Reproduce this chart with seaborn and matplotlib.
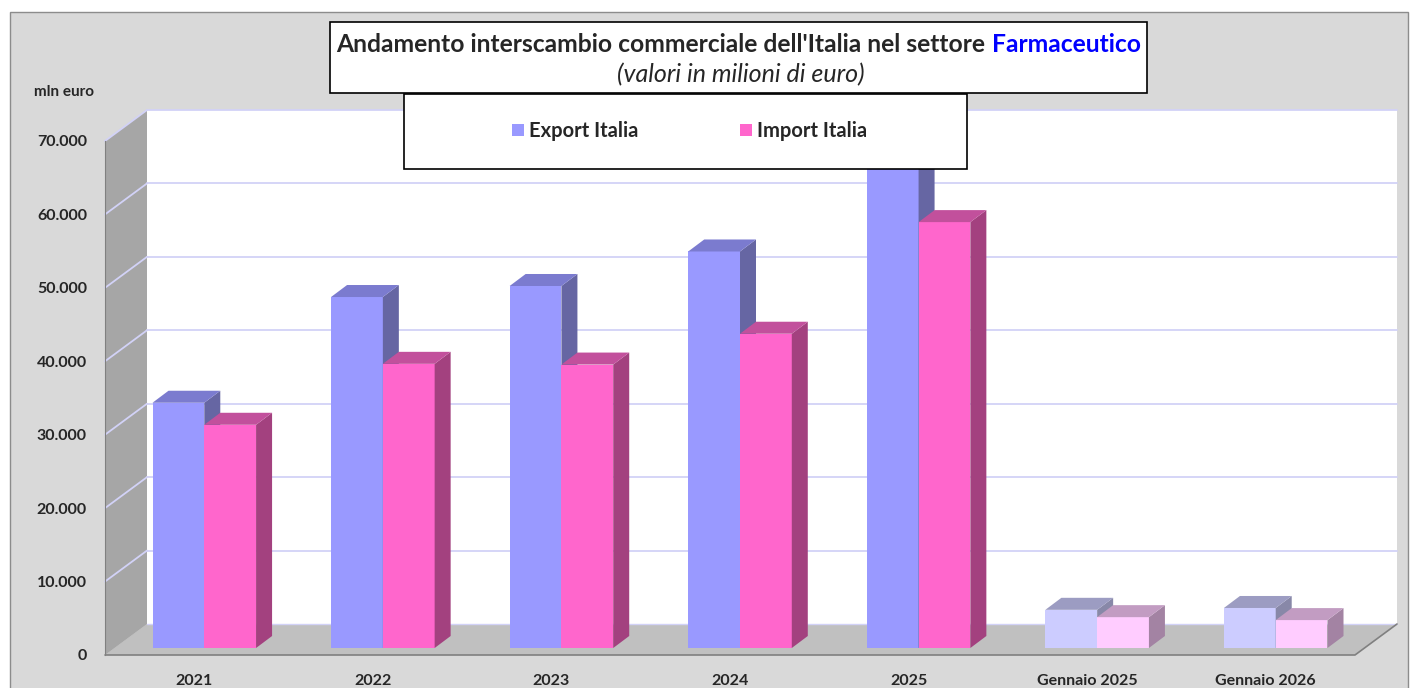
import matplotlib.pyplot as plt
from matplotlib.patches import Polygon, Rectangle, Patch
import seaborn as sns
import pandas as pd

# dati (milioni di euro)
categorie = ['2021', '2022', '2023', '2024', '2025', 'Gennaio 2025', 'Gennaio 2026']
export_italia = [33400, 47800, 49300, 54000, 67000, 5200, 5450]
import_italia = [30400, 38700, 38600, 42800, 58000, 4200, 3800]
serie = ['Export Italia', 'Import Italia']
y_ticks = [0, 10000, 20000, 30000, 40000, 50000, 60000, 70000]

colori = ['#9999FF', '#FF66CC']
colori_lato = ['#6666A3', '#A3417F']
colori_top = ['#7B7BCF', '#C2509C']
# barre "Gennaio" in tinta chiara
colori_gen = ['#CCCCFF', '#FFCCFF']
colori_gen_lato = ['#8888A8', '#A383A3']
colori_gen_top = ['#9C9CC2', '#C29CC2']

df = pd.DataFrame({
    'categoria': categorie * 2,
    'valore': export_italia + import_italia,
    'serie': [serie[0]] * len(categorie) + [serie[1]] * len(categorie),
})

sns.set_style('white')
plt.rcParams['font.family'] = ['Lato', 'DejaVu Sans']

W, H = 1416, 688
fig = plt.figure(figsize=(W / 100, H / 100), dpi=100)
fig.patch.set_facecolor('white')
fig.add_artist(Rectangle((10 / W, -0.01), 1398 / W, (H - 12) / H + 0.01,
                         transform=fig.transFigure, facecolor='#D9D9D9',
                         edgecolor='#8C8C8C', lw=1, zorder=0))

ax = fig.add_axes([105 / W, 33 / H, 1250 / W, 514 / H])
ax.set_xlim(-0.5, 6.5)
ax.set_ylim(0, 70000)
ax.patch.set_alpha(0)

px_x = 1250 / 7
px_y = 514 / 70000


def off(px, py):
    return px / px_x, py / px_y


# pareti e pavimento pseudo-3D
Dx, Dy = off(42, 31)
ax.add_patch(Polygon([(-0.5, 0), (6.5, 0), (6.5 + Dx, Dy), (-0.5 + Dx, Dy)],
                     closed=True, facecolor='#C0C0C0', edgecolor='none', zorder=0.5, clip_on=False))
ax.add_patch(Polygon([(-0.5, 0), (-0.5, 70000), (-0.5 + Dx, 70000 + Dy), (-0.5 + Dx, Dy)],
                     closed=True, facecolor='#A6A6A6', edgecolor='none', zorder=0.5, clip_on=False))
ax.add_patch(Rectangle((-0.5 + Dx, Dy), 7, 70000, facecolor='white', edgecolor='none',
                       zorder=0.5, clip_on=False))
for v in y_ticks[1:]:
    ax.plot([-0.5 + Dx, 6.5 + Dx], [v + Dy, v + Dy], color='#D2D2F7', lw=1.3, zorder=0.8, clip_on=False)
    ax.plot([-0.5, -0.5 + Dx], [v, v + Dy], color='#D2D2F7', lw=1.3, zorder=0.8, clip_on=False)
ax.plot([-0.5 + Dx, 6.5 + Dx], [Dy, Dy], color='#D2D2F7', lw=1, zorder=0.8, clip_on=False)
ax.plot([-0.5, 6.5, 6.5 + Dx], [0, 0, Dy], color='#808080', lw=1.2, zorder=0.9, clip_on=False)

# barre
sns.barplot(data=df, x='categoria', y='valore', hue='serie', order=categorie,
            hue_order=serie, palette=colori, width=0.58, saturation=1,
            legend=False, ax=ax)

bx, by = off(10, 7)
dx, dy = off(16, 12)
for i, cont in enumerate(ax.containers):
    for j, bar in enumerate(cont):
        gen = categorie[j].startswith('Gennaio')
        front = colori_gen[i] if gen else colori[i]
        lato = colori_gen_lato[i] if gen else colori_lato[i]
        top = colori_gen_top[i] if gen else colori_top[i]
        bar.set_x(bar.get_x() + bx)
        bar.set_y(by)
        bar.set_facecolor(front)
        bar.set_edgecolor('none')
        bar.set_zorder(3 + i)
        bar.set_clip_on(False)
        x0, w, h = bar.get_x(), bar.get_width(), bar.get_height()
        x1, y0, y1 = x0 + w, by, by + h
        ax.add_patch(Polygon([(x1, y0), (x1 + dx, y0 + dy), (x1 + dx, y1 + dy), (x1, y1)],
                             closed=True, facecolor=lato, edgecolor='none', zorder=3 + i, clip_on=False))
        ax.add_patch(Polygon([(x0, y1), (x1, y1), (x1 + dx, y1 + dy), (x0 + dx, y1 + dy)],
                             closed=True, facecolor=top, edgecolor='none', zorder=3 + i, clip_on=False))

# assi
for s in ['top', 'right', 'bottom']:
    ax.spines[s].set_visible(False)
ax.spines['left'].set_color('#808080')
ax.set_yticks(y_ticks, [f'{v:,}'.replace(',', '.') for v in y_ticks])
ax.tick_params(axis='y', direction='out', length=5, color='#808080', pad=8)
ax.set_xticks(range(len(categorie)), categorie)
ax.tick_params(axis='x', length=0, pad=14)
for lab in ax.get_xticklabels() + ax.get_yticklabels():
    lab.set_fontweight('bold')
    lab.set_fontsize(11.5)
ax.set_xlabel('')
ax.set_ylabel('')

fig.text(64 / W, 1 - 92 / H, 'mln euro', ha='center', va='center', fontweight='bold', fontsize=11)

# box titolo
fig.add_artist(Rectangle((330 / W, 1 - 93 / H), 817 / W, 71 / H, transform=fig.transFigure,
                         facecolor='white', edgecolor='black', lw=1.2, zorder=10))
r = fig.canvas.get_renderer()
t1 = fig.text(0, 1 - 44 / H, "Andamento interscambio commerciale dell'Italia nel settore ",
              fontsize=17.7, fontweight='bold', va='center', ha='left', zorder=11)
t2 = fig.text(0, 1 - 44 / H, 'Farmaceutico', fontsize=17.7, fontweight='bold',
              color='#0000FF', va='center', ha='left', zorder=11)
w1 = t1.get_window_extent(r).width
w2 = t2.get_window_extent(r).width
xs = 738.5 - (w1 + w2) / 2
t1.set_x(xs / W)
t2.set_x((xs + w1) / W)
fig.text(741 / W, 1 - 75 / H, '(valori in milioni di euro)', fontsize=18, fontstyle='italic',
         ha='center', va='center', zorder=11)

# box legenda
fig.add_artist(Rectangle((404 / W, 1 - 169 / H), 563 / W, 75 / H, transform=fig.transFigure,
                         facecolor='white', edgecolor='black', lw=1.2, zorder=12))
handles = [Patch(facecolor=c, edgecolor='none') for c in colori]
leg = fig.legend(handles, serie, loc='center', bbox_to_anchor=(689.5 / W, 1 - 131 / H),
                 ncol=2, frameon=False, handlelength=0.6, handleheight=0.6,
                 handletextpad=0.25, columnspacing=5.05,
                 prop={'weight': 'bold', 'size': 14.5})
leg.set_zorder(13)

fig.savefig('out.png', dpi=100, facecolor=fig.get_facecolor())
